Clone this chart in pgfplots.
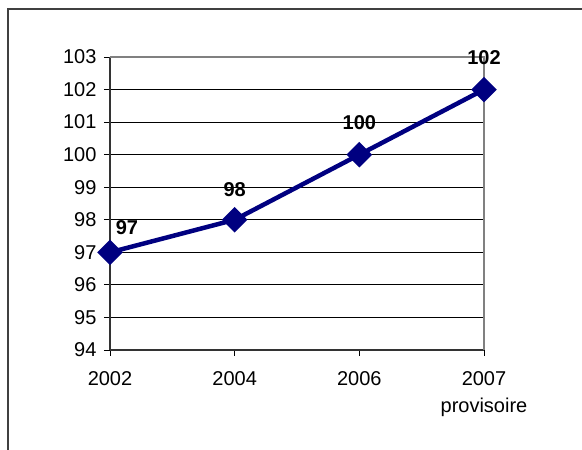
\documentclass[border=0pt]{standalone}
\usepackage{pgfplots}
\pgfplotsset{compat=1.18}
\usepackage{fontspec}
\setmainfont{Liberation Sans}
\definecolor{navyline}{RGB}{0,0,128}
\begin{document}
\begin{tikzpicture}[x=1pt,y=1pt]
\path[use as bounding box] (-110,-100) rectangle (472,350);
% outer chart frame (only top and left visible)
\draw[line width=2pt, black!75] (-102,-100) -- (-102,340.5) -- (472,340.5);
\begin{axis}[
  anchor=south west,
  scale only axis, width=374pt, height=293pt,
  xmin=0, xmax=3, ymin=94, ymax=103,
  xtick={0,1,2,3},
  xticklabels={2002,2004,2006,{2007\\provisoire}},
  ytick={94,95,...,103},
  axis lines*=left,
  axis line style={line width=1.5pt, black!80},
  tick style={black, line width=0.8pt},
  tick align=outside, major tick length=6pt,
  ymajorgrids, major grid style={black, line width=0.8pt},
  /pgf/number format/assume math mode=true,
  ticklabel style={font=\fontsize{20}{27}\selectfont},
  xticklabel style={align=center, yshift=-12pt},
  yticklabel style={xshift=-4pt},
  clip=false,
]
\draw[gray, line width=1.5pt] (axis cs:0,103) -- (axis cs:3,103) -- (axis cs:3,94);
\addplot[navyline, line width=4.5pt, mark=square*, mark size=6.8pt,
  mark options={rotate=45, solid, fill=navyline}] coordinates {
  (0, 97)
  (1, 98)
  (2, 100)
  (3, 102)
};
\node[font=\fontsize{20}{24}\selectfont\bfseries, xshift=17pt, yshift=25pt] at (axis cs:0,97) {97};
\node[font=\fontsize{20}{24}\selectfont\bfseries, yshift=30pt] at (axis cs:1,98) {98};
\node[font=\fontsize{20}{24}\selectfont\bfseries, yshift=32pt] at (axis cs:2,100) {100};
\node[font=\fontsize{20}{24}\selectfont\bfseries, yshift=32pt] at (axis cs:3,102) {102};
\end{axis}
\end{tikzpicture}
\end{document}
